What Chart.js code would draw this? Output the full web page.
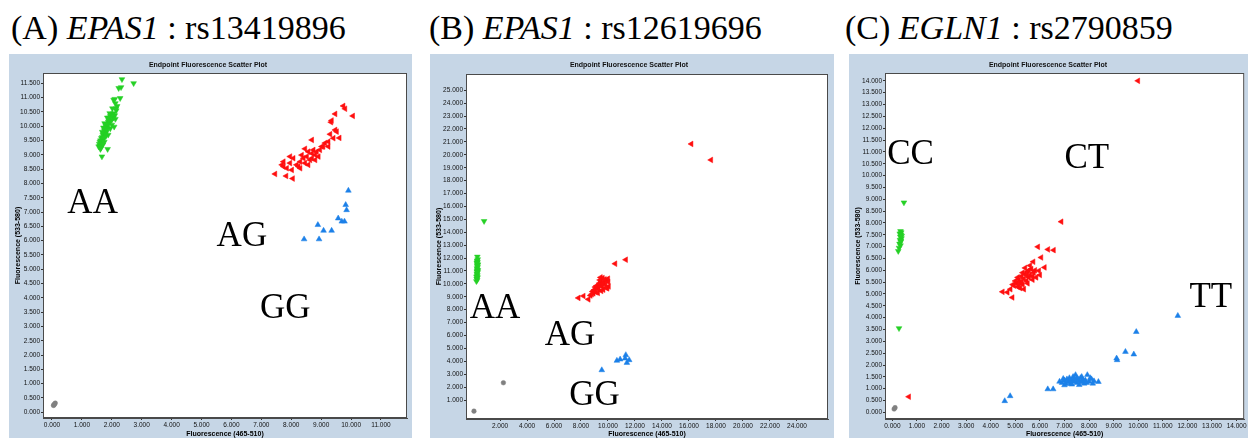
<html>

<head>
    <title>Endpoint Fluorescence Scatter Plots</title>
    <script src="https://cdn.jsdelivr.net/npm/chart.js"></script>
    <style>
        body {
            margin: 0;
            background: #fff;
            width: 1248px;
            height: 438px;
            overflow: hidden;
            position: relative;
        }

        .heading {
            position: absolute;
            top: 11px;
            font-family: 'Liberation Serif', 'Times New Roman', serif;
            font-size: 34px;
            line-height: 34px;
            color: #000;
            white-space: nowrap;
        }

        .frame {
            position: absolute;
            top: 54px;
            height: 384px;
            background: #c6d6e6;
        }

        canvas {
            display: block;
        }
    </style>
</head>

<body>
    <div class="heading" style="left:11px">(A) <i>EPAS1</i> : rs13419896</div>
    <div class="heading" style="left:429px">(B) <i>EPAS1</i> : rs12619696</div>
    <div class="heading" style="left:845px">(C) <i>EGLN1</i> : rs2790859</div>

    <div class="frame" style="left:9px;width:403px"><canvas id="chartA" width="403" height="384"></canvas></div>
    <div class="frame" style="left:430px;width:404px"><canvas id="chartB" width="404" height="384"></canvas></div>
    <div class="frame" style="left:849px;width:399px"><canvas id="chartC" width="399" height="384"></canvas></div>

    <script>
        // values are in thousands of fluorescence units, [x (465-510), y (533-580)]

        // (A) EPAS1 rs13419896
        const greenA = [[2.34, 11.64], [2.73, 11.50], [2.23, 11.33], [2.31, 11.36], [2.28, 10.98], [2.06, 10.92],
        [2.12, 10.80], [2.10, 10.95], [2.06, 10.45], [2.15, 10.55], [2.02, 10.62], [2.18, 10.70], [1.98, 10.40],
        [2.05, 10.30], [2.10, 10.38], [1.92, 10.30], [1.95, 10.18], [2.00, 10.22], [1.88, 10.15], [1.85, 10.05],
        [1.90, 10.08], [1.80, 10.00], [1.83, 9.95], [1.95, 9.92], [1.78, 9.90], [1.75, 9.85], [1.82, 9.80],
        [1.72, 9.75], [1.70, 9.70], [1.78, 9.72], [1.68, 9.62], [1.65, 9.58], [1.72, 9.55], [1.62, 9.50],
        [1.60, 9.45], [1.66, 9.42], [1.58, 9.38], [1.60, 9.30], [1.56, 9.29], [1.64, 9.25], [1.86, 9.20],
        [1.67, 8.94], [1.74, 9.60], [1.84, 9.88], [1.90, 10.20], [1.70, 9.35], [2.08, 9.98], [2.12, 10.25],
        [1.95, 10.35], [1.88, 9.70], [1.62, 9.20], [1.75, 9.45], [1.80, 9.65], [1.68, 9.80], [2.00, 10.05],
        [1.93, 10.45], [2.14, 10.62], [1.76, 10.10], [1.72, 9.95], [1.85, 10.30]];
        const redA = [[7.46, 8.33], [7.83, 8.26], [8.05, 8.17], [9.74, 10.71], [9.80, 10.61], [10.06, 10.36],
        [9.47, 10.43], [9.35, 10.20], [9.33, 10.14], [9.47, 9.87], [9.61, 9.59], [9.30, 9.72], [8.69, 9.52],
        [9.24, 9.46], [9.13, 9.41], [8.46, 9.21], [8.74, 9.17], [8.91, 8.94], [9.02, 9.29], [7.69, 8.65],
        [7.74, 8.76], [7.96, 8.94], [8.07, 8.88], [8.18, 8.65], [8.30, 8.76], [8.35, 8.99], [8.52, 8.94],
        [8.63, 8.82], [8.69, 9.05], [8.80, 9.00], [8.57, 8.65], [7.85, 8.53], [8.02, 8.47], [7.74, 8.59],
        [7.96, 8.71], [8.24, 8.59], [8.85, 9.11], [8.96, 9.17], [8.57, 9.11], [8.41, 8.88], [8.69, 8.88],
        [8.80, 8.82], [8.30, 8.53], [9.41, 9.58], [9.52, 9.81], [9.07, 9.29], [9.24, 9.29], [8.46, 8.71]];
        const blueA = [[9.91, 7.75], [9.82, 7.25], [9.85, 7.07], [9.57, 6.78], [9.69, 6.67], [9.78, 6.67],
        [8.89, 6.55], [9.08, 6.35], [9.35, 6.35], [8.43, 6.05], [8.93, 6.05]];
        const greyA = [[0.05, 0.24], [0.08, 0.28], [0.11, 0.32], [0.07, 0.26]];
        const xTicksA = [0, 1, 2, 3, 4, 5, 6, 7, 8, 9, 10, 11];
        const yTicksA = [0, 0.5, 1, 1.5, 2, 2.5, 3, 3.5, 4, 4.5, 5, 5.5, 6, 6.5, 7, 7.5, 8, 8.5, 9, 9.5, 10, 10.5, 11, 11.5];
        const namesA = ['AA', 'AG', 'GG'];
        const namesAtA = [[1.36, 7.37], [6.35, 6.2], [7.8, 3.69]];

        // (B) EPAS1 rs12619696
        const greenB = [[0.32, 12.10], [0.35, 11.90], [0.30, 11.80], [0.33, 11.70], [0.28, 11.60], [0.36, 11.50],
        [0.31, 11.40], [0.34, 11.30], [0.29, 11.20], [0.33, 11.10], [0.30, 11.00], [0.35, 10.90], [0.28, 10.80],
        [0.32, 10.70], [0.30, 10.60], [0.34, 10.50], [0.27, 10.40], [0.31, 10.30], [0.25, 10.20], [0.36, 11.05],
        [0.29, 10.95], [0.33, 11.45], [0.31, 11.65], [0.26, 10.55], [0.82, 14.86]];
        const redB = [[7.81, 8.91], [8.18, 9.06], [8.55, 8.80], [8.92, 9.27], [8.70, 9.10], [8.85, 9.40],
        [9.00, 9.55], [9.10, 9.35], [9.20, 9.70], [9.30, 9.60], [9.40, 9.90], [9.50, 10.20], [9.60, 10.45],
        [9.45, 10.50], [9.70, 10.10], [9.80, 9.95], [9.90, 10.30], [10.00, 10.40], [10.05, 9.80], [9.95, 9.65],
        [9.35, 10.05], [9.15, 9.85], [9.05, 9.75], [8.95, 9.50], [9.25, 9.30], [9.55, 9.80], [9.65, 9.55],
        [9.75, 10.35], [10.02, 10.15], [9.85, 9.70], [9.50, 9.45], [8.80, 9.20], [9.40, 10.30], [9.60, 10.00],
        [10.53, 11.56], [11.32, 11.87], [16.17, 20.84], [17.63, 19.60]];
        const blueB = [[9.54, 3.32], [10.66, 4.05], [10.90, 4.15], [11.32, 4.49], [11.40, 3.89], [11.57, 4.10], [11.27, 4.23]];
        const greyB = [[0.07, 0.14], [2.25, 2.34]];
        const xTicksB = [2, 4, 6, 8, 10, 12, 14, 16, 18, 20, 22, 24];
        const yTicksB = [1, 2, 3, 4, 5, 6, 7, 8, 9, 10, 11, 12, 13, 14, 15, 16, 17, 18, 19, 20, 21, 22, 23, 24, 25];
        const namesB = ['AA', 'AG', 'GG'];
        const namesAtB = [[1.63, 8.28], [7.19, 6.17], [9.0, 1.52]];

        // (C) EGLN1 rs2790859
        const greenC = [[0.33, 7.65], [0.36, 7.60], [0.30, 7.55], [0.35, 7.50], [0.32, 7.42], [0.37, 7.35],
        [0.31, 7.28], [0.34, 7.20], [0.29, 7.12], [0.33, 7.05], [0.27, 6.95], [0.24, 6.81], [0.38, 7.45],
        [0.35, 7.25], [0.47, 8.86], [0.27, 3.55]];
        const redC = [[4.48, 5.09], [4.68, 5.07], [4.88, 4.85], [4.80, 5.20], [4.95, 5.35], [5.05, 5.45],
        [5.10, 5.30], [5.15, 5.60], [5.20, 5.50], [5.25, 5.75], [5.30, 5.40], [5.35, 5.65], [5.40, 5.85],
        [5.45, 5.55], [5.50, 5.95], [5.55, 5.70], [5.60, 5.80], [5.65, 6.05], [5.70, 5.75], [5.75, 5.90],
        [5.80, 6.00], [5.85, 5.70], [5.00, 5.55], [5.10, 5.70], [5.20, 5.25], [5.30, 5.90], [5.40, 6.10],
        [5.50, 5.45], [5.60, 6.20], [5.70, 5.60], [4.90, 5.40], [5.35, 5.20], [5.45, 5.80], [5.25, 5.50],
        [5.15, 5.40], [5.55, 6.00], [6.00, 5.80], [5.92, 6.99], [6.33, 6.88], [6.56, 6.85], [6.05, 6.54],
        [5.73, 6.36], [6.19, 6.12], [5.96, 5.98], [6.87, 8.05], [9.99, 14.00], [0.67, 0.66]];
        const blueC = [[6.80, 1.30], [6.90, 1.25], [7.00, 1.35], [7.05, 1.20], [7.10, 1.40], [7.15, 1.28],
        [7.20, 1.45], [7.25, 1.22], [7.30, 1.35], [7.35, 1.50], [7.40, 1.30], [7.45, 1.58], [7.50, 1.25],
        [7.55, 1.40], [7.60, 1.32], [7.65, 1.45], [7.70, 1.28], [7.75, 1.38], [7.80, 1.22], [7.85, 1.35],
        [7.93, 1.58], [8.00, 1.30], [8.10, 1.40], [8.20, 1.32], [8.38, 1.29], [7.00, 1.15], [7.30, 1.18],
        [7.60, 1.16], [7.90, 1.25], [8.15, 1.22], [7.20, 1.32], [7.50, 1.45], [7.70, 1.50], [7.40, 1.42],
        [6.95, 1.42], [8.05, 1.45], [11.61, 4.08], [9.92, 3.40], [9.48, 2.56], [9.82, 2.45], [9.12, 2.28],
        [9.14, 2.21], [4.57, 0.48], [4.79, 0.69], [6.32, 0.98], [6.54, 0.98]];
        const greyC = [[0.07, 0.14], [0.11, 0.20]];
        const xTicksC = [0, 1, 2, 3, 4, 5, 6, 7, 8, 9, 10, 11, 12, 13, 14];
        const yTicksC = [0, 0.5, 1, 1.5, 2, 2.5, 3, 3.5, 4, 4.5, 5, 5.5, 6, 6.5, 7, 7.5, 8, 8.5, 9, 9.5, 10, 10.5, 11, 11.5, 12, 12.5, 13, 13.5, 14];
        const namesC = ['CC', 'CT', 'TT'];
        const namesAtC = [[0.74, 10.96], [7.91, 10.82], [12.95, 4.95]];

        const SANS = "'Liberation Sans', Arial, sans-serif";

        // white plot area with a dark frame, like the instrument software
        const plotBox = {
            id: 'plotBox',
            beforeDraw(chart) {
                const { ctx, chartArea: a } = chart;
                ctx.save();
                ctx.fillStyle = '#fff';
                ctx.fillRect(a.left, a.top, a.width, a.height);
                ctx.restore();
            },
            afterDraw(chart) {
                const { ctx, chartArea: a } = chart;
                ctx.save();
                ctx.strokeStyle = '#4a4a4a';
                ctx.lineWidth = 1;
                ctx.strokeRect(a.left + 0.5, a.top + 0.5, a.width - 1, a.height - 1);
                ctx.restore();
            }
        };

        // big genotype names, placed in data units
        const genotypeText = {
            id: 'genotypeText',
            afterDatasetsDraw(chart, args, opts) {
                const ctx = chart.ctx;
                ctx.save();
                ctx.font = "35px 'Liberation Serif', 'Times New Roman', serif";
                ctx.fillStyle = '#000';
                ctx.textAlign = 'center';
                ctx.textBaseline = 'alphabetic';
                opts.names.forEach((n, i) => {
                    const x = chart.scales.x.getPixelForValue(opts.at[i][0]);
                    const y = chart.scales.y.getPixelForValue(opts.at[i][1]);
                    ctx.fillText(n, x, y + 11.5);
                });
                ctx.restore();
            }
        };

        function xy(list) {
            return list.map(p => ({ x: p[0], y: p[1] }))
        }

        function group(label, list, color, style, rotation, radius) {
            return {
                label: label,
                data: xy(list),
                pointStyle: style,
                rotation: rotation,
                pointRadius: radius,
                pointHoverRadius: radius,
                backgroundColor: color,
                borderColor: color,
                borderWidth: 0.5
            }
        }

        function makeChart(id, sets, box, xTicks, yTicks, names, namesAt) {
            return new Chart(document.getElementById(id), {
                type: 'scatter',
                data: {
                    datasets: [
                        group('homozygous allele 1', sets[0], '#25d025', 'triangle', 180, 3.3),
                        group('heterozygous', sets[1], '#ff0f0f', 'triangle', -90, 3.3),
                        group('homozygous allele 2', sets[2], '#1c80e8', 'triangle', 0, 3.3),
                        group('no template', sets[3], '#808080', 'circle', 0, 2.3)
                    ]
                },
                options: {
                    responsive: false,
                    animation: false,
                    layout: { padding: { left: 0, right: box.right, top: 0, bottom: 0 } },
                    plugins: {
                        legend: { display: false },
                        tooltip: { enabled: false },
                        title: {
                            display: true,
                            text: 'Endpoint Fluorescence Scatter Plot',
                            color: '#111',
                            font: { family: SANS, size: 7, weight: 'bold' },
                            padding: { top: 7, bottom: box.top - 15.4 }
                        },
                        genotypeText: { names: names, at: namesAt }
                    },
                    scales: {
                        x: {
                            type: 'linear',
                            min: box.x[0],
                            max: box.x[1],
                            afterBuildTicks: s => { s.ticks = xTicks.map(v => ({ value: v })) },
                            afterFit: s => { s.height = box.xh; s.paddingLeft = 0; s.paddingRight = 0 },
                            grid: { drawOnChartArea: false, drawTicks: true, tickLength: 2, color: '#333' },
                            border: { display: true, color: '#4a4a4a' },
                            ticks: {
                                autoSkip: false, maxRotation: 0, padding: 1, color: '#111',
                                font: { family: SANS, size: 6.5 },
                                callback: v => v.toFixed(3)
                            },
                            title: {
                                display: true, text: 'Fluorescence (465-510)', color: '#000',
                                font: { family: SANS, size: 7, weight: 'bold' },
                                padding: { top: 1, bottom: 0 }
                            }
                        },
                        y: {
                            type: 'linear',
                            min: box.y[0],
                            max: box.y[1],
                            afterBuildTicks: s => { s.ticks = yTicks.map(v => ({ value: v })) },
                            afterFit: s => { s.width = box.yw; s.paddingTop = 0; s.paddingBottom = 0 },
                            grid: { drawOnChartArea: false, drawTicks: true, tickLength: 2, color: '#333' },
                            border: { display: true, color: '#4a4a4a' },
                            ticks: {
                                autoSkip: false, padding: 1, color: '#111',
                                font: { family: SANS, size: 6.5 },
                                callback: v => v.toFixed(3)
                            },
                            title: {
                                display: true, text: 'Fluorescence (533-580)', color: '#000',
                                font: { family: SANS, size: 7, weight: 'bold' },
                                padding: { top: 5, bottom: 0 }
                            }
                        }
                    }
                },
                plugins: [plotBox, genotypeText]
            });
        }

        makeChart('chartA', [greenA, redA, blueA, greyA],
            { x: [-0.3, 11.87], y: [-0.2, 11.86], yw: 34, xh: 20, top: 19, right: 5 },
            xTicksA, yTicksA, namesA, namesAtA);
        makeChart('chartB', [greenB, redB, blueB, greyB],
            { x: [-0.52, 26.3], y: [-0.47, 26.26], yw: 36, xh: 19, top: 20, right: 6 },
            xTicksB, yTicksB, namesB, namesAtB);
        makeChart('chartC', [greenC, redC, blueC, greyC],
            { x: [-0.3, 14.31], y: [-0.28, 14.33], yw: 36, xh: 19, top: 19, right: 1 },
            xTicksC, yTicksC, namesC, namesAtC);
    </script>
</body>

</html>
